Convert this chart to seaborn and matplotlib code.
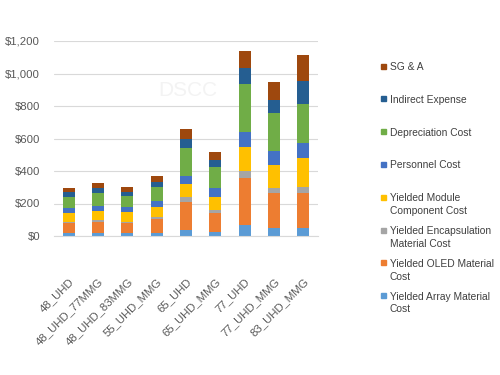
import numpy as np
import pandas as pd
import seaborn as sns
import matplotlib
matplotlib.use("Agg")
import matplotlib.pyplot as plt
from matplotlib.patches import Rectangle
from matplotlib.ticker import FuncFormatter

models = ["48_UHD", "48_UHD_77MMG", "48_UHD_83MMG", "55_UHD_MMG", "65_UHD",
          "65_UHD_MMG", "77_UHD", "77_UHD_MMG", "83_UHD_MMG"]

components = ["Yielded Array Material Cost", "Yielded OLED Material Cost",
              "Yielded Encapsulation Material Cost", "Yielded Module Component Cost",
              "Personnel Cost", "Depreciation Cost", "Indirect Expense", "SG & A"]
legend_labels = ["Yielded Array Material\nCost", "Yielded OLED Material\nCost",
                 "Yielded Encapsulation\nMaterial Cost", "Yielded Module\nComponent Cost",
                 "Personnel Cost", "Depreciation Cost", "Indirect Expense", "SG & A"]

array_cost = [16, 16, 16, 20, 37, 27, 68, 51, 51]
oled_cost = [62, 68, 62, 83, 172, 116, 291, 212, 215]
encap_cost = [10, 14, 10, 12, 29, 17, 41, 30, 37]
module_cost = [55, 58, 58, 65, 82, 82, 150, 144, 175]
personnel_cost = [29, 30, 31, 35, 51, 51, 88, 86, 92]
depreciation_cost = [70, 81, 71, 88, 172, 130, 297, 236, 240]
indirect_cost = [27, 31, 25, 29, 52, 45, 97, 78, 144]
sga_cost = [24, 26, 27, 39, 61, 51, 106, 109, 160]

y_ticks = [0, 200, 400, 600, 800, 1000, 1200]

colors = ["#5B9BD5", "#ED7D31", "#A5A5A5", "#FFC000",
          "#4472C4", "#70AD47", "#255E91", "#9E480E"]

series = [array_cost, oled_cost, encap_cost, module_cost,
          personnel_cost, depreciation_cost, indirect_cost, sga_cost]
df = pd.DataFrame({c: v for c, v in zip(components, series)}, index=models)
cum = df.cumsum(axis=1)

sns.set_theme(style="white")
plt.rcParams["font.family"] = ["Liberation Sans", "DejaVu Sans"]

fig = plt.figure(figsize=(5, 3.75), dpi=100)
W, H = 500, 375
ax = fig.add_axes([54 / W, 1 - 236 / H, (318 - 54) / W, (236 - 41) / H])

for i in reversed(range(len(components))):
    sns.barplot(x=models, y=cum[components[i]].values, color=colors[i],
                saturation=1, width=0.4, errorbar=None, linewidth=0, ax=ax)

ax.set_xlim(-0.5, len(models) - 0.5)
ax.set_ylim(0, 1200)
ax.set_yticks(y_ticks)
ax.yaxis.set_major_formatter(FuncFormatter(lambda v, p: "${:,.0f}".format(v)))
ax.yaxis.grid(True, color="#D9D9D9", linewidth=0.8)
ax.set_axisbelow(True)
for s in ["top", "right", "left"]:
    ax.spines[s].set_visible(False)
ax.spines["bottom"].set_color("#D9D9D9")
ax.spines["bottom"].set_linewidth(0.8)
ax.set_xlabel("")
ax.set_ylabel("")
ax.tick_params(axis="y", length=0, pad=10, labelsize=8.2, labelcolor="#595959")
ax.tick_params(axis="x", length=0, pad=29, labelsize=8.2, labelcolor="#595959")
for lab in ax.get_xticklabels():
    lab.set_rotation(45)
    lab.set_ha("right")
    lab.set_va("top")
    lab.set_rotation_mode("anchor")

# watermark
fig.text(188 / W, 1 - 90 / H, "DSCC", fontsize=15, color="#F3F3F3",
         ha="center", va="center")

# legend (top to bottom)
for i, k in enumerate(reversed(range(len(components)))):
    yc = 66 + 32.8 * i
    fig.patches.append(Rectangle((381 / W, 1 - (yc + 2.5) / H), 5 / W, 5 / H,
                                 transform=fig.transFigure, color=colors[k],
                                 figure=fig))
    fig.text(390 / W, 1 - (yc - 4) / H, legend_labels[k], fontsize=7.4,
             color="#404040", ha="left", va="top", linespacing=1.35)

fig.savefig("out.png", dpi=100, facecolor="white")
